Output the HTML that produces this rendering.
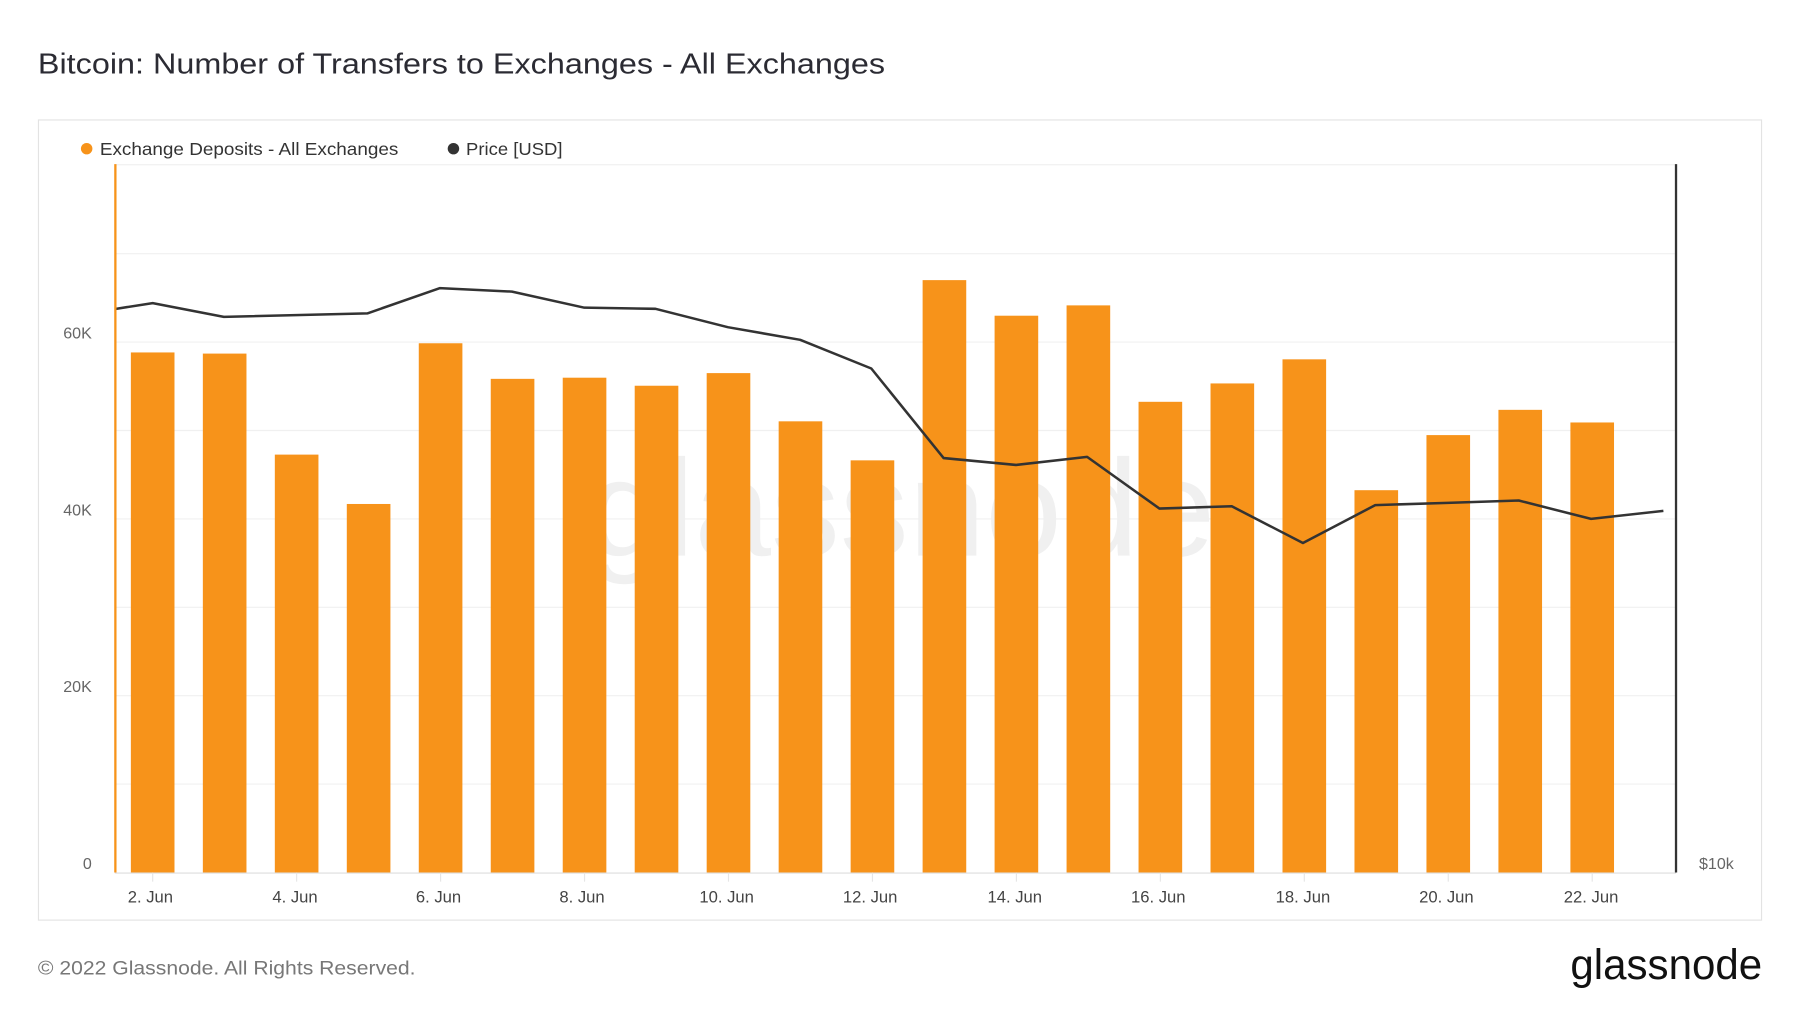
<!DOCTYPE html>
<html><head><meta charset="utf-8"><style>
html,body{margin:0;padding:0;background:#fff;}
svg{display:block;font-family:"Liberation Sans",sans-serif;}
</style></head><body>
<svg width="1800" height="1013" viewBox="0 0 1568 882.4" xmlns="http://www.w3.org/2000/svg">
<rect width="1568" height="882.4" fill="#fff"/>
<text x="33" y="64" font-size="25" fill="#2b2b33" textLength="738" lengthAdjust="spacingAndGlyphs">Bitcoin: Number of Transfers to Exchanges - All Exchanges</text>
<rect x="33.5" y="104.5" width="1501" height="697" fill="#fff" stroke="#e3e3e3" stroke-width="1"/>
<circle cx="75.5" cy="129.5" r="5" fill="#f7931a"/>
<text x="87" y="135" font-size="15.5" fill="#333" textLength="260" lengthAdjust="spacingAndGlyphs">Exchange Deposits - All Exchanges</text>
<circle cx="395" cy="129.5" r="5" fill="#333"/>
<text x="406" y="135" font-size="15.5" fill="#333" textLength="84" lengthAdjust="spacingAndGlyphs">Price [USD]</text>
<text x="785" y="484" font-size="120" fill="#f0f0f0" text-anchor="middle">glassnode</text>
<g stroke="#f0f0f0" stroke-width="1">
<line x1="100" x2="1460" y1="143.5" y2="143.5"/>
<line x1="100" x2="1460" y1="221" y2="221"/>
<line x1="100" x2="1460" y1="298" y2="298"/>
<line x1="100" x2="1460" y1="375" y2="375"/>
<line x1="100" x2="1460" y1="452" y2="452"/>
<line x1="100" x2="1460" y1="529" y2="529"/>
<line x1="100" x2="1460" y1="606" y2="606"/>
<line x1="100" x2="1460" y1="683" y2="683"/>
</g>
<g font-size="14" fill="#666" text-anchor="end">
<text x="80" y="295">60K</text><text x="80" y="449">40K</text><text x="80" y="603">20K</text><text x="80" y="757">0</text>
</g>
<text x="1480" y="757" font-size="14" fill="#666">$10k</text>
<g fill="#f7931a">
<rect x="114" y="307" width="38" height="453"/>
<rect x="176.7" y="308" width="38" height="452"/>
<rect x="239.4" y="396" width="38" height="364"/>
<rect x="302.1" y="439" width="38" height="321"/>
<rect x="364.8" y="299" width="38" height="461"/>
<rect x="427.5" y="330" width="38" height="430"/>
<rect x="490.2" y="329" width="38" height="431"/>
<rect x="552.9" y="336" width="38" height="424"/>
<rect x="615.6" y="325" width="38" height="435"/>
<rect x="678.3" y="367" width="38" height="393"/>
<rect x="741" y="401" width="38" height="359"/>
<rect x="803.7" y="244" width="38" height="516"/>
<rect x="866.4" y="275" width="38" height="485"/>
<rect x="929.1" y="266" width="38" height="494"/>
<rect x="991.8" y="350" width="38" height="410"/>
<rect x="1054.5" y="334" width="38" height="426"/>
<rect x="1117.2" y="313" width="38" height="447"/>
<rect x="1179.9" y="427" width="38" height="333"/>
<rect x="1242.6" y="379" width="38" height="381"/>
<rect x="1305.3" y="357" width="38" height="403"/>
<rect x="1368" y="368" width="38" height="392"/>
</g>
<polyline fill="none" stroke="#333" stroke-width="2.2" stroke-linejoin="round" points="101,269 133,264 195,276 320,273 383,251 446,254 509,268 571,269 634,285 697,296 759,321 822,399 885,405 947,398 1010,443 1073,441 1135,473 1198,440 1261,438 1323,436 1386,452 1449,445"/>
<line x1="100" x2="1460" y1="760.5" y2="760.5" stroke="#ddd" stroke-width="1"/>
<line x1="100.5" x2="100.5" y1="143" y2="760" stroke="#f7931a" stroke-width="2"/>
<line x1="1460" x2="1460" y1="143" y2="760" stroke="#333" stroke-width="2"/>
<g stroke="#e6e6e6"><line x1="133" x2="133" y1="760" y2="768"/><line x1="258.4" x2="258.4" y1="760" y2="768"/><line x1="383.8" x2="383.8" y1="760" y2="768"/><line x1="509.2" x2="509.2" y1="760" y2="768"/><line x1="634.6" x2="634.6" y1="760" y2="768"/><line x1="760" x2="760" y1="760" y2="768"/><line x1="885.4" x2="885.4" y1="760" y2="768"/><line x1="1010.8" x2="1010.8" y1="760" y2="768"/><line x1="1136.2" x2="1136.2" y1="760" y2="768"/><line x1="1261.6" x2="1261.6" y1="760" y2="768"/><line x1="1387" x2="1387" y1="760" y2="768"/></g>
<g font-size="14.5" fill="#444" text-anchor="middle">
<text x="131" y="786">2. Jun</text><text x="257" y="786">4. Jun</text><text x="382" y="786">6. Jun</text><text x="507" y="786">8. Jun</text><text x="633" y="786">10. Jun</text><text x="758" y="786">12. Jun</text><text x="884" y="786">14. Jun</text><text x="1009" y="786">16. Jun</text><text x="1135" y="786">18. Jun</text><text x="1260" y="786">20. Jun</text><text x="1386" y="786">22. Jun</text>
</g>
<text x="33" y="849" font-size="16.5" fill="#777" textLength="329" lengthAdjust="spacingAndGlyphs">© 2022 Glassnode. All Rights Reserved.</text>
<text x="1368" y="853" font-size="37" fill="#111" textLength="167" lengthAdjust="spacingAndGlyphs">glassnode</text>
</svg>
</body></html>
